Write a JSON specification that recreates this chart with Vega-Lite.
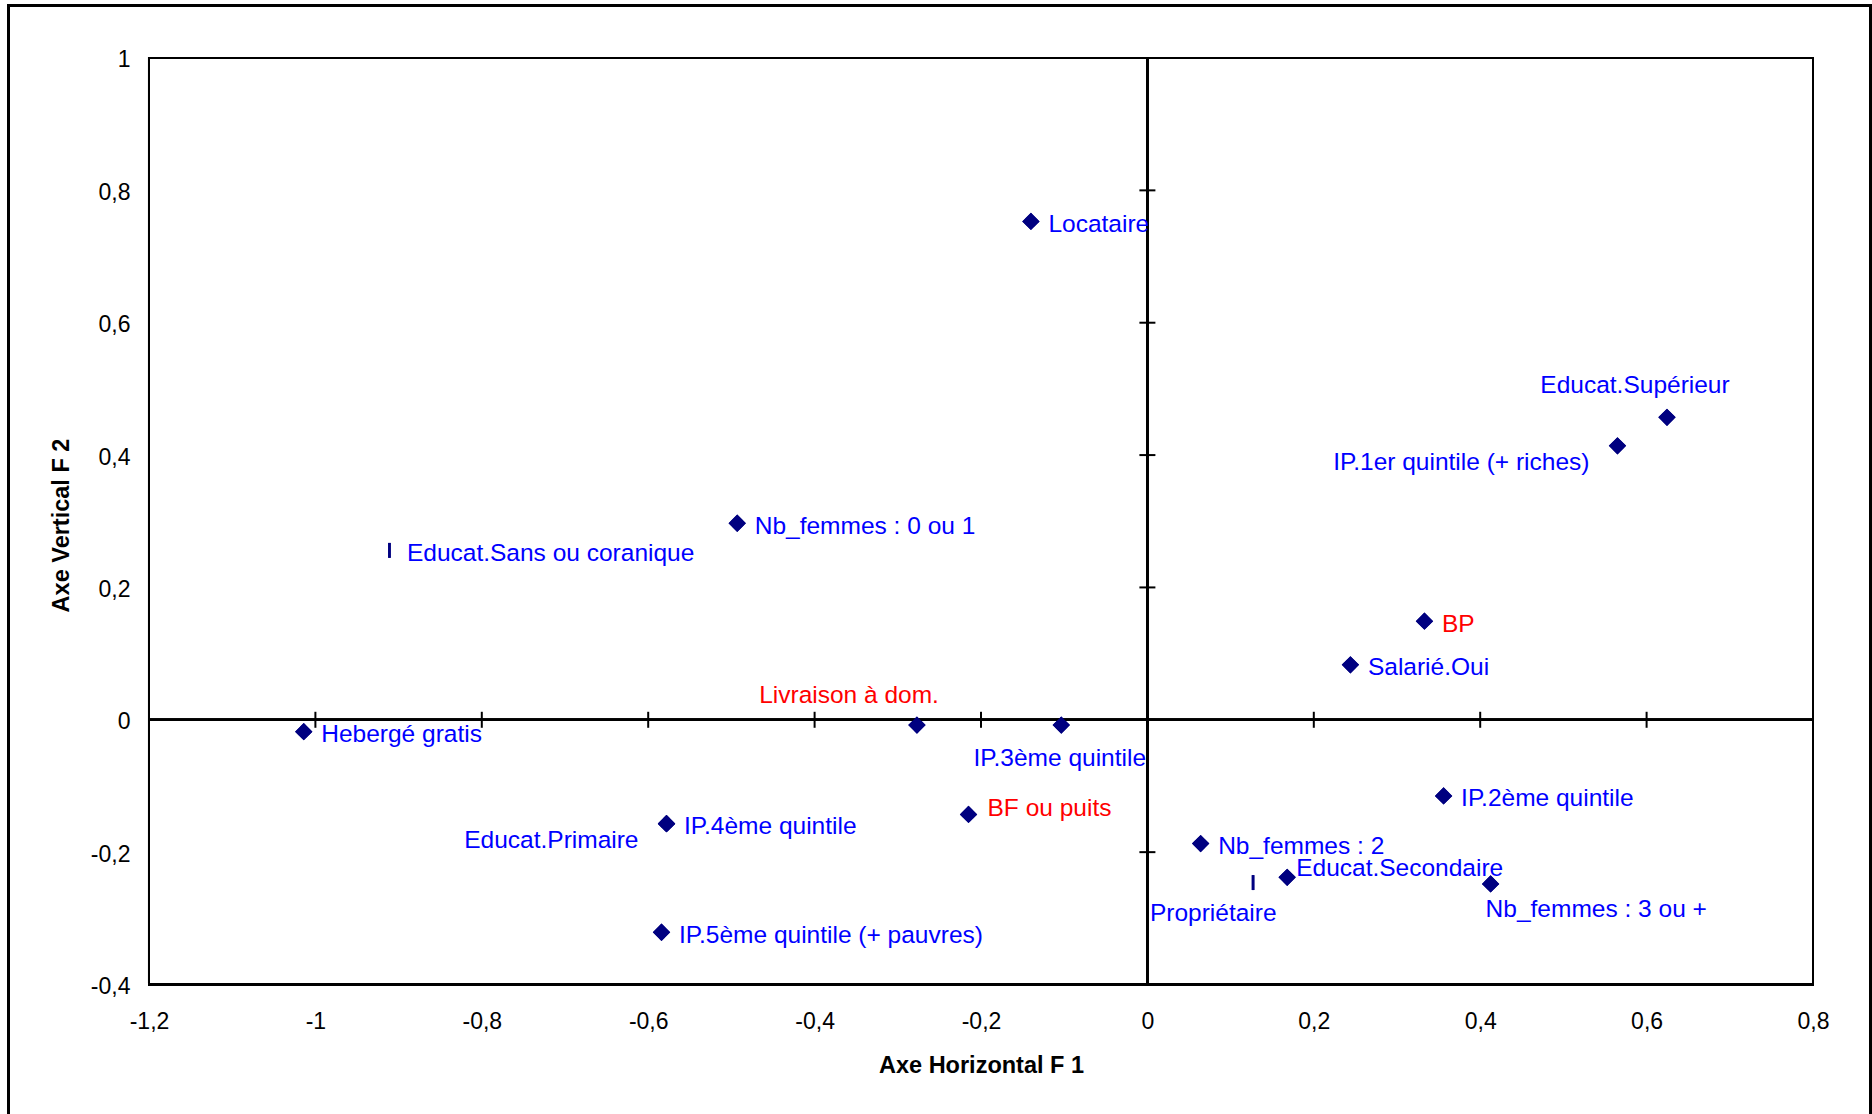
{
  "$schema": "https://vega.github.io/schema/vega-lite/v6.json",
  "width": 1862,
  "height": 1111.5,
  "autosize": {"type": "none"},
  "padding": {"left": 8.5, "top": 5.5, "right": 1.5, "bottom": -3},
  "background": "white",
  "config": {
    "view": {"stroke": "black", "strokeWidth": 3},
    "font": "Liberation Sans",
    "text": {"font": "Liberation Sans", "fontSize": 24.5, "baseline": "middle"},
    "axis": {
      "domain": false, "ticks": false, "grid": false,
      "labelFont": "Liberation Sans", "labelFontSize": 23, "labelColor": "black",
      "labelFlush": false, "labelOverlap": false,
      "titleFont": "Liberation Sans", "titleFontSize": 23.5, "titleFontWeight": "bold", "titleColor": "black"
    }
  },
  "datasets": {
    "modalites": [
      {"modalite": "Educat.Primaire", "F1": -0.578, "F2": -0.157, "variable": "Ménage", "serie": "Série 1", "etiquette": "gauche"},
      {"modalite": "Locataire", "F1": -0.140, "F2": 0.753, "variable": "Ménage", "serie": "Série 1", "etiquette": "droite"},
      {"modalite": "Educat.Supérieur", "F1": 0.6245, "F2": 0.457, "variable": "Ménage", "serie": "Série 1", "etiquette": "dessus"},
      {"modalite": "IP.1er quintile (+ riches)", "F1": 0.565, "F2": 0.414, "variable": "Ménage", "serie": "Série 1", "etiquette": "gauche"},
      {"modalite": "BP", "F1": 0.333, "F2": 0.149, "variable": "Source d'eau", "serie": "Série 1", "etiquette": "droite"},
      {"modalite": "Salarié.Oui", "F1": 0.244, "F2": 0.083, "variable": "Ménage", "serie": "Série 1", "etiquette": "droite"},
      {"modalite": "IP.2ème quintile", "F1": 0.356, "F2": -0.115, "variable": "Ménage", "serie": "Série 1", "etiquette": "droite"},
      {"modalite": "Nb_femmes : 2", "F1": 0.064, "F2": -0.187, "variable": "Ménage", "serie": "Série 1", "etiquette": "droite"},
      {"modalite": "Educat.Secondaire", "F1": 0.168, "F2": -0.238, "variable": "Ménage", "serie": "Série 1", "etiquette": "droite-proche"},
      {"modalite": "Propriétaire", "F1": 0.127, "F2": -0.246, "variable": "Ménage", "serie": "Série 2", "etiquette": "dessous-gauche"},
      {"modalite": "Nb_femmes : 3 ou +", "F1": 0.4125, "F2": -0.248, "variable": "Ménage", "serie": "Série 1", "etiquette": "dessous-droite"},
      {"modalite": "IP.3ème quintile", "F1": -0.1035, "F2": -0.008, "variable": "Ménage", "serie": "Série 1", "etiquette": "dessous"},
      {"modalite": "Livraison à dom.", "F1": -0.277, "F2": -0.008, "variable": "Source d'eau", "serie": "Série 1", "etiquette": "dessus-gauche"},
      {"modalite": "BF ou puits", "F1": -0.215, "F2": -0.143, "variable": "Source d'eau", "serie": "Série 1", "etiquette": "droite-haut"},
      {"modalite": "IP.4ème quintile", "F1": -0.578, "F2": -0.157, "variable": "Ménage", "serie": "Série 1", "etiquette": "droite"},
      {"modalite": "IP.5ème quintile (+ pauvres)", "F1": -0.584, "F2": -0.321, "variable": "Ménage", "serie": "Série 1", "etiquette": "droite"},
      {"modalite": "Hebergé gratis", "F1": -1.014, "F2": -0.018, "variable": "Ménage", "serie": "Série 1", "etiquette": "droite"},
      {"modalite": "Nb_femmes : 0 ou 1", "F1": -0.493, "F2": 0.297, "variable": "Ménage", "serie": "Série 1", "etiquette": "droite"},
      {"modalite": "Educat.Sans ou coranique", "F1": -0.911, "F2": 0.256, "variable": "Ménage", "serie": "Série 2", "etiquette": "droite"}
    ],
    "graduations_x": [
      {"v": -1.2}, {"v": -1}, {"v": -0.8}, {"v": -0.6}, {"v": -0.4}, {"v": -0.2},
      {"v": 0}, {"v": 0.2}, {"v": 0.4}, {"v": 0.6}, {"v": 0.8}
    ],
    "graduations_y": [
      {"v": -0.4}, {"v": -0.2}, {"v": 0}, {"v": 0.2}, {"v": 0.4}, {"v": 0.6}, {"v": 0.8}, {"v": 1}
    ]
  },
  "layer": [
    {
      "data": {"name": "modalites"},
      "mark": {"type": "point", "filled": true, "size": 300, "color": "#000080", "opacity": 1, "strokeWidth": 0},
      "encoding": {
        "x": {
          "field": "F1", "type": "quantitative",
          "scale": {"domain": [-1.36887, 0.86911], "nice": false, "zero": false},
          "axis": {
            "orient": "bottom", "offset": -132.5,
            "values": [-1.2, -1, -0.8, -0.6, -0.4, -0.2, 0, 0.2, 0.4, 0.6, 0.8],
            "labelExpr": "(datum.value < 0 ? '-' : '') + replace(format(abs(datum.value), '.1~f'), '.', ',')",
            "labelPadding": 26,
            "title": "Axe Horizontal F 1", "titlePadding": 20, "titleX": 972.5, "titleAlign": "center"
          }
        },
        "y": {
          "field": "F2", "type": "quantitative",
          "scale": {"domain": [-0.60021, 1.07933], "nice": false, "zero": false},
          "axis": {
            "orient": "left", "offset": -140.5,
            "values": [-0.4, -0.2, 0, 0.2, 0.4, 0.6, 0.8, 1],
            "labelExpr": "(datum.value < 0 ? '-' : '') + replace(format(abs(datum.value), '.1~f'), '.', ',')",
            "labelPadding": 19, "labelOffset": 2,
            "title": "Axe Vertical F 2", "titlePadding": 17, "titleY": 519.5, "titleAlign": "center"
          }
        },
        "shape": {
          "field": "serie", "type": "nominal",
          "scale": {"domain": ["Série 1", "Série 2"], "range": ["diamond", "M-0.15,-0.86L0.15,-0.86L0.15,0.86L-0.15,0.86Z"]},
          "legend": null
        }
      }
    },
    {
      "data": {"name": "graduations_x"},
      "mark": {"type": "rect", "fillOpacity": 0, "stroke": "black", "strokeWidth": 2},
      "encoding": {
        "x": {"datum": -1.2, "type": "quantitative"},
        "x2": {"datum": 0.8},
        "y": {"datum": -0.4, "type": "quantitative"},
        "y2": {"datum": 1}
      }
    },
    {
      "data": {"name": "graduations_x"},
      "mark": {"type": "rule", "color": "black", "strokeWidth": 2},
      "encoding": {
        "x": {"datum": -1.2, "type": "quantitative"},
        "x2": {"datum": 0.8},
        "y": {"datum": 0, "type": "quantitative"}
      }
    },
    {
      "data": {"name": "graduations_y"},
      "mark": {"type": "rule", "color": "black", "strokeWidth": 2},
      "encoding": {
        "x": {"datum": 0, "type": "quantitative"},
        "y": {"datum": -0.4, "type": "quantitative"},
        "y2": {"datum": 1}
      }
    },
    {
      "data": {"name": "graduations_x"},
      "mark": {"type": "tick", "orient": "vertical", "size": 16, "thickness": 2, "color": "black", "opacity": 1},
      "encoding": {
        "x": {"field": "v", "type": "quantitative"},
        "y": {"datum": 0, "type": "quantitative"}
      }
    },
    {
      "data": {"name": "graduations_y"},
      "mark": {"type": "tick", "orient": "horizontal", "size": 16, "thickness": 2, "color": "black", "opacity": 1},
      "encoding": {
        "x": {"datum": 0, "type": "quantitative"},
        "y": {"field": "v", "type": "quantitative"}
      }
    },
    {
      "data": {"name": "modalites"},
      "mark": {"type": "point", "filled": true, "size": 300, "color": "#000080", "opacity": 1, "strokeWidth": 0},
      "encoding": {
        "x": {"field": "F1", "type": "quantitative"},
        "y": {"field": "F2", "type": "quantitative"},
        "shape": {
          "field": "serie", "type": "nominal",
          "scale": {"domain": ["Série 1", "Série 2"], "range": ["diamond", "M-0.15,-0.86L0.15,-0.86L0.15,0.86L-0.15,0.86Z"]},
          "legend": null
        }
      }
    },
    {
      "data": {"name": "modalites"},
      "transform": [{"filter": "datum.etiquette === 'droite'"}],
      "mark": {"type": "text", "align": "left", "dx": 17.5, "dy": 3.5},
      "encoding": {
        "x": {"field": "F1", "type": "quantitative"},
        "y": {"field": "F2", "type": "quantitative"},
        "text": {"field": "modalite"},
        "color": {"field": "variable", "type": "nominal", "scale": {"domain": ["Ménage", "Source d'eau"], "range": ["#0000FF", "#FF0000"]}, "legend": null}
      }
    },
    {
      "data": {"name": "modalites"},
      "transform": [{"filter": "datum.etiquette === 'droite-haut'"}],
      "mark": {"type": "text", "align": "left", "dx": 19, "dy": -5.5},
      "encoding": {
        "x": {"field": "F1", "type": "quantitative"},
        "y": {"field": "F2", "type": "quantitative"},
        "text": {"field": "modalite"},
        "color": {"field": "variable", "type": "nominal", "scale": {"domain": ["Ménage", "Source d'eau"], "range": ["#0000FF", "#FF0000"]}, "legend": null}
      }
    },
    {
      "data": {"name": "modalites"},
      "transform": [{"filter": "datum.etiquette === 'droite-proche'"}],
      "mark": {"type": "text", "align": "left", "dx": 9, "dy": -8},
      "encoding": {
        "x": {"field": "F1", "type": "quantitative"},
        "y": {"field": "F2", "type": "quantitative"},
        "text": {"field": "modalite"},
        "color": {"field": "variable", "type": "nominal", "scale": {"domain": ["Ménage", "Source d'eau"], "range": ["#0000FF", "#FF0000"]}, "legend": null}
      }
    },
    {
      "data": {"name": "modalites"},
      "transform": [{"filter": "datum.etiquette === 'gauche'"}],
      "mark": {"type": "text", "align": "right", "dx": -28, "dy": 17},
      "encoding": {
        "x": {"field": "F1", "type": "quantitative"},
        "y": {"field": "F2", "type": "quantitative"},
        "text": {"field": "modalite"},
        "color": {"field": "variable", "type": "nominal", "scale": {"domain": ["Ménage", "Source d'eau"], "range": ["#0000FF", "#FF0000"]}, "legend": null}
      }
    },
    {
      "data": {"name": "modalites"},
      "transform": [{"filter": "datum.etiquette === 'dessus'"}],
      "mark": {"type": "text", "align": "center", "dx": -32, "dy": -31},
      "encoding": {
        "x": {"field": "F1", "type": "quantitative"},
        "y": {"field": "F2", "type": "quantitative"},
        "text": {"field": "modalite"},
        "color": {"field": "variable", "type": "nominal", "scale": {"domain": ["Ménage", "Source d'eau"], "range": ["#0000FF", "#FF0000"]}, "legend": null}
      }
    },
    {
      "data": {"name": "modalites"},
      "transform": [{"filter": "datum.etiquette === 'dessus-gauche'"}],
      "mark": {"type": "text", "align": "right", "dx": 22, "dy": -29},
      "encoding": {
        "x": {"field": "F1", "type": "quantitative"},
        "y": {"field": "F2", "type": "quantitative"},
        "text": {"field": "modalite"},
        "color": {"field": "variable", "type": "nominal", "scale": {"domain": ["Ménage", "Source d'eau"], "range": ["#0000FF", "#FF0000"]}, "legend": null}
      }
    },
    {
      "data": {"name": "modalites"},
      "transform": [{"filter": "datum.etiquette === 'dessous'"}],
      "mark": {"type": "text", "align": "center", "dx": -1.5, "dy": 34},
      "encoding": {
        "x": {"field": "F1", "type": "quantitative"},
        "y": {"field": "F2", "type": "quantitative"},
        "text": {"field": "modalite"},
        "color": {"field": "variable", "type": "nominal", "scale": {"domain": ["Ménage", "Source d'eau"], "range": ["#0000FF", "#FF0000"]}, "legend": null}
      }
    },
    {
      "data": {"name": "modalites"},
      "transform": [{"filter": "datum.etiquette === 'dessous-gauche'"}],
      "mark": {"type": "text", "align": "right", "dx": 23.5, "dy": 31},
      "encoding": {
        "x": {"field": "F1", "type": "quantitative"},
        "y": {"field": "F2", "type": "quantitative"},
        "text": {"field": "modalite"},
        "color": {"field": "variable", "type": "nominal", "scale": {"domain": ["Ménage", "Source d'eau"], "range": ["#0000FF", "#FF0000"]}, "legend": null}
      }
    },
    {
      "data": {"name": "modalites"},
      "transform": [{"filter": "datum.etiquette === 'dessous-droite'"}],
      "mark": {"type": "text", "align": "left", "dx": -5, "dy": 26},
      "encoding": {
        "x": {"field": "F1", "type": "quantitative"},
        "y": {"field": "F2", "type": "quantitative"},
        "text": {"field": "modalite"},
        "color": {"field": "variable", "type": "nominal", "scale": {"domain": ["Ménage", "Source d'eau"], "range": ["#0000FF", "#FF0000"]}, "legend": null}
      }
    }
  ]
}
